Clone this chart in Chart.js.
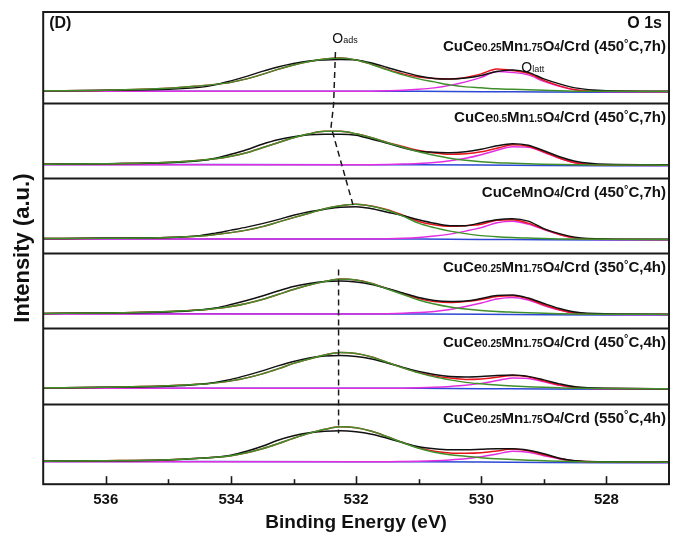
<!DOCTYPE html>
<html>
<head>
<meta charset="utf-8">
<script src="https://cdn.jsdelivr.net/npm/chart.js@4.4.1/dist/chart.umd.min.js"></script>
<style>
  html, body { margin: 0; padding: 0; background: #fff; }
</style>
</head>
<body>
<canvas id="myChart" width="676" height="540"></canvas>
<script>
// binding energy grid (eV) shared by all measured / fitted curves
const energy = [537, 536, 535, 534.5, 534.25, 534, 533.75, 533.5, 533.25, 533, 532.75, 532.5, 532.25, 532,
  531.75, 531.5, 531.25, 531, 530.75, 530.5, 530.25, 530, 529.75, 529.5, 529.25, 529, 528.75, 528.5, 528, 527];

// CuCe0.25Mn1.75O4/Crd (450C,7h)
const raw1 = [1.5, 2, 3, 5, 7.5, 11.5, 16, 21, 25.5, 29, 31.5, 32.5, 33, 32.5, 29.5, 25, 20.5, 16.5, 14, 13.5, 14.5, 17, 21, 22.5, 20, 13.5, 8.5, 4.5, 1.5, 1];
const fit1 = [1.5, 2, 4, 6.5, 8, 10, 13.5, 18, 23, 27.5, 31, 33.5, 34.5, 32.5, 28.2, 23, 18.5, 15.5, 14, 13.5, 15, 18.5, 23.5, 22, 19, 12, 6.5, 2.7, 1, 0.8];
const ads1 = [1.5, 2, 4, 6.5, 8, 10, 13.5, 18, 23, 27.5, 31, 33.5, 34.5, 32.5, 28, 22.5, 17.5, 13.5, 10.5, 7.5, 5.5, 4.5, 3.5, 3, 2.5, 2, 1.5, 1.2, 1, 0.8];
const latt1 = [1, 1, 1, 1, 1, 1, 1, 1, 1, 1, 1, 1, 1, 1, 1.2, 1.5, 2, 3, 4.5, 7, 10.5, 15, 21, 20, 17.5, 11, 6, 2.5, 0.5, 0.3];

// CuCe0.5Mn1.5O4/Crd (450C,7h)
const raw2 = [1.5, 2, 3, 5, 7.5, 11.5, 16, 21.5, 26, 29, 31, 31.5, 31.5, 30.5, 26.5, 22.5, 18, 14.5, 13.5, 13, 14, 16.5, 20, 22, 20.5, 15, 9, 4.5, 1.5, 1];
const fit2 = [1.5, 2, 3.5, 5.5, 7, 9.5, 13, 18, 23, 28, 32, 34.5, 34.5, 32, 28.1, 23.3, 19.2, 15.3, 12.8, 11.5, 12, 14, 17.5, 21, 19.5, 14, 7.7, 3, 0.8, 0.6];
const ads2 = [1.5, 2, 3.5, 5.5, 7, 9.5, 13, 18, 23, 28, 32, 34.5, 34.5, 32, 28, 23, 18.5, 14, 10.5, 7.5, 5.5, 4, 3, 2.5, 2, 1.5, 1.2, 1, 0.8, 0.6];
const latt2 = [1, 1, 1, 1, 1, 1, 1, 1, 1, 1, 1, 1, 1, 1, 1.1, 1.3, 1.7, 2.3, 3.3, 5, 7.5, 11, 15.5, 19, 18.5, 13.5, 7.5, 3, 0.6, 0.3];

// CuCeMnO4/Crd (450C,7h)
const raw3 = [1.5, 2, 2.5, 4.5, 7, 10, 13, 16.5, 20.5, 25, 28.5, 31, 33, 33.5, 31.5, 28, 24.5, 20.5, 17, 14.5, 14.5, 17.5, 20.5, 21.5, 19, 11.5, 6.5, 3, 1.2, 0.8];
const fit3 = [1.5, 1.8, 2.5, 4, 5.5, 7.5, 10, 13.5, 18, 22.5, 27, 31.5, 34.5, 36, 34.1, 30.4, 24.9, 18.7, 15.5, 14, 14.5, 16, 19.8, 20.5, 17, 11, 5.7, 2.2, 0.8, 0.6];
const ads3 = [1.5, 1.8, 2.5, 4, 5.5, 7.5, 10, 13.5, 18, 22.5, 27, 31.5, 34.5, 36, 34, 30, 24, 17, 12.5, 9, 6.5, 4.5, 3.3, 2.5, 2, 1.5, 1.2, 1, 0.8, 0.6];
const latt3 = [1, 1, 1, 1, 1, 1, 1, 1, 1, 1, 1, 1, 1, 1, 1.1, 1.4, 1.9, 2.7, 4, 6, 9, 12.5, 17.5, 19, 16, 10.5, 5.5, 2.2, 0.5, 0.3];

// CuCe0.25Mn1.75O4/Crd (350C,4h)
const raw4 = [1.5, 2, 3, 5, 7, 10.5, 14.5, 19, 24, 28.5, 31.5, 33.5, 34, 33, 30.5, 26.5, 22, 17.5, 14.5, 13.5, 14, 16.5, 19.5, 20, 17, 11.5, 6.5, 3, 1.2, 0.8];
const fit4 = [1.5, 2, 3.5, 5, 6.5, 8.5, 11.5, 15.5, 20.5, 25.5, 30, 33.5, 36, 35, 31.6, 26.3, 21.2, 16.4, 13.5, 12.5, 13.5, 15.5, 18.5, 19.3, 16.2, 10.2, 5.3, 2, 0.8, 0.6];
const ads4 = [1.5, 2, 3.5, 5, 6.5, 8.5, 11.5, 15.5, 20.5, 25.5, 30, 33.5, 36, 35, 31.5, 26, 20.5, 15, 11, 8, 6, 4.5, 3.5, 2.8, 2.2, 1.7, 1.3, 1, 0.8, 0.6];
const latt4 = [1, 1, 1, 1, 1, 1, 1, 1, 1, 1, 1, 1, 1, 1, 1.1, 1.3, 1.7, 2.4, 3.5, 5.5, 8.5, 12, 16, 17.5, 15, 9.5, 5, 2, 0.5, 0.3];

// CuCe0.25Mn1.75O4/Crd (450C,4h)
const raw5 = [1.5, 2, 3, 5, 7, 10, 14, 18.5, 23.5, 28, 31.5, 33.5, 34, 33, 30.5, 26.5, 22, 18, 15, 13, 12.5, 13, 14, 14.5, 13, 9.5, 5.5, 2.5, 1, 0.7];
const fit5 = [1.5, 2, 3.5, 5, 6.5, 8.5, 11.5, 15.5, 20.5, 26, 30.5, 34.5, 37, 36, 32.5, 27, 21.7, 17, 13.5, 11.3, 10, 10.5, 12.1, 13.9, 12.7, 8.5, 4.5, 1.8, 0.8, 0.6];
const ads5 = [1.5, 2, 3.5, 5, 6.5, 8.5, 11.5, 15.5, 20.5, 26, 30.5, 34.5, 37, 36, 32.5, 27, 21.5, 16.5, 12.5, 9.5, 7, 5.5, 4.3, 3.4, 2.7, 2, 1.5, 1.1, 0.8, 0.6];
const latt5 = [1, 1, 1, 1, 1, 1, 1, 1, 1, 1, 1, 1, 1, 1, 1, 1, 1.2, 1.5, 2, 2.8, 4, 6, 8.8, 11.5, 11, 7.5, 4, 1.7, 0.5, 0.3];

// CuCe0.25Mn1.75O4/Crd (550C,4h)
const raw6 = [1.5, 2, 2.7, 4.5, 5.5, 7.5, 11.5, 16.5, 22.5, 27, 30, 31.5, 32, 31, 28.5, 24.5, 20, 16, 14, 13, 13, 13.5, 14, 14, 12.5, 9, 4.5, 2, 1, 0.7];
const fit6 = [1.5, 2, 3, 4.5, 5.5, 7, 10, 14, 19, 24.5, 29.5, 33.5, 36, 35, 31.5, 26, 20.2, 15, 11.5, 9.8, 9.5, 10, 11.8, 13.7, 12, 8, 4.3, 1.7, 0.8, 0.6];
const ads6 = [1.5, 2, 3, 4.5, 5.5, 7, 10, 14, 19, 24.5, 29.5, 33.5, 36, 35, 31.5, 26, 20, 14.5, 10.5, 8, 6.5, 5, 4, 3.2, 2.5, 2, 1.5, 1.1, 0.8, 0.6];
const latt6 = [1, 1, 1, 1, 1, 1, 1, 1, 1, 1, 1, 1, 1, 1, 1, 1, 1.2, 1.5, 2, 2.8, 4, 6, 8.8, 11.5, 10.5, 7, 3.8, 1.6, 0.5, 0.3];

// Shirley-type background (same shape in each panel)
const bgEnergy = [537, 532, 531, 530, 529, 528, 527];
const bgLevel = [1.2, 1.1, 1.0, 0.7, 0.3, 0.1, 0];

// O_ads peak-position guide (energy, stacked intensity)
const guideTopE = [532.33, 532.36, 532.40, 532.05];
const guideTopI = [433, 380, 358, 280];
const guideLowE = [532.28, 532.28];
const guideLowI = [215, 51];

const panelLabels = [
  'CuCe_{0.25}Mn_{1.75}O_{4}/Crd (450^{°}C,7h)',
  'CuCe_{0.5}Mn_{1.5}O_{4}/Crd (450^{°}C,7h)',
  'CuCeMnO_{4}/Crd (450^{°}C,7h)',
  'CuCe_{0.25}Mn_{1.75}O_{4}/Crd (350^{°}C,4h)',
  'CuCe_{0.25}Mn_{1.75}O_{4}/Crd (450^{°}C,4h)',
  'CuCe_{0.25}Mn_{1.75}O_{4}/Crd (550^{°}C,4h)'
];
const panels = [
  [raw1, fit1, ads1, latt1], [raw2, fit2, ads2, latt2], [raw3, fit3, ads3, latt3],
  [raw4, fit4, ads4, latt4], [raw5, fit5, ads5, latt5], [raw6, fit6, ads6, latt6]
];

// vertical stacking (y units of the hidden axis)
const panelBase = [392.5, 319, 244.5, 169.5, 95, 21.5];
const dividers = [381.5, 306.5, 231.5, 156.5, 80.5];
const yTop = 473;

const colors = { raw: '#111111', fit: '#e8141c', ads: '#3f8f2a', latt: '#e22ee2', bg: '#2c48d4' };

function pts(xs, ys, off) {
  return xs.map((e, i) => ({ x: e, y: ys[i] + off }));
}
function line(data, color, order) {
  return { data: data, borderColor: color, borderWidth: 1.5, pointRadius: 0, cubicInterpolationMode: 'monotone', fill: false, order: order };
}

let datasets = [];
panels.forEach((p, k) => {
  const off = panelBase[k];
  datasets.push(line(pts(bgEnergy, bgLevel, off), colors.bg, 5));
  datasets.push(line(pts(energy, p[3], off), colors.latt, 4));
  datasets.push(line(pts(energy, p[1], off), colors.fit, 3));
  datasets.push(line(pts(energy, p[0], off), colors.raw, 2));
  datasets.push(line(pts(energy, p[2], off), colors.ads, 1));
});
[[guideTopE, guideTopI], [guideLowE, guideLowI]].forEach(g => {
  datasets.push({ data: pts(g[0], g[1], 0), borderColor: '#1a1a1a', borderWidth: 1.5, borderDash: [6, 4], pointRadius: 0, tension: 0, order: 0 });
});

function drawRich(ctx, str, xRight, yBase, size) {
  const parts = str.split(/(_\{[^}]*\}|\^\{[^}]*\})/).filter(s => s.length);
  const segs = parts.map(s => {
    if (s.startsWith('_{')) return { t: s.slice(2, -1), f: 'bold ' + Math.round(size * 0.68) + 'px "Liberation Sans", Arial', dy: 0 };
    if (s.startsWith('^{')) return { t: s.slice(2, -1), f: 'bold ' + Math.round(size * 0.75) + 'px "Liberation Sans", Arial', dy: -size * 0.3 };
    return { t: s, f: 'bold ' + size + 'px "Liberation Sans", Arial', dy: 0 };
  });
  let w = 0;
  segs.forEach(s => { ctx.font = s.f; s.w = ctx.measureText(s.t).width; w += s.w; });
  let x = xRight - w;
  segs.forEach(s => { ctx.font = s.f; ctx.fillText(s.t, x, yBase + s.dy); x += s.w; });
}

const decor = {
  id: 'decor',
  afterDatasetsDraw(chart) {
    const { ctx, chartArea: a, scales: { x, y } } = chart;
    ctx.save();
    ctx.strokeStyle = '#1a1a1a';
    ctx.lineWidth = 1.8;
    dividers.forEach(v => {
      const py = Math.round(y.getPixelForValue(v)) + 0.5;
      ctx.beginPath(); ctx.moveTo(a.left, py); ctx.lineTo(a.right, py); ctx.stroke();
    });
    ctx.lineWidth = 2;
    ctx.strokeRect(a.left, a.top, a.right - a.left, a.bottom - a.top);
    ctx.lineWidth = 1.6;
    x.ticks.forEach(t => {
      const v = Math.round(t.value);
      if (v <= 527 || v >= 537) return;
      const px = Math.round(x.getPixelForValue(v)) + 0.5;
      const len = v % 2 === 0 ? 8 : 5;
      ctx.beginPath(); ctx.moveTo(px, a.bottom); ctx.lineTo(px, a.bottom - len); ctx.stroke();
    });

    ctx.fillStyle = '#111';
    ctx.textBaseline = 'alphabetic';
    ctx.textAlign = 'left';
    ctx.font = 'bold 16px "Liberation Sans", Arial';
    ctx.fillText('(D)', a.left + 6, a.top + 16);
    ctx.textAlign = 'right';
    ctx.fillText('O 1s', a.right - 7, a.top + 16);
    ctx.textAlign = 'left';

    panelLabels.forEach((lab, k) => {
      const topPx = k === 0 ? a.top + 20 : y.getPixelForValue(dividers[k - 1]);
      drawRich(ctx, lab, a.right - 3, topPx + 19, 15);
    });

    // peak labels
    ctx.font = '14px "Liberation Sans", Arial';
    const ox = x.getPixelForValue(532.38);
    ctx.fillText('O', ox, a.top + 31);
    let w = ctx.measureText('O').width;
    ctx.font = '9px "Liberation Sans", Arial';
    ctx.fillText('ads', ox + w, a.top + 31);
    ctx.font = '14px "Liberation Sans", Arial';
    const lx = x.getPixelForValue(529.36);
    ctx.fillText('O', lx, a.top + 60);
    ctx.font = '9px "Liberation Sans", Arial';
    ctx.fillText('latt', lx + w, a.top + 60);
    ctx.restore();
  }
};

let ctx = document.getElementById('myChart').getContext('2d');
let chart = new Chart(ctx, {
  type: 'line',
  data: { datasets: datasets },
  options: {
    responsive: false,
    animation: false,
    devicePixelRatio: 1,
    layout: { padding: { left: 10, right: 4, top: 12, bottom: 6 } },
    plugins: { legend: { display: false }, tooltip: { enabled: false } },
    scales: {
      x: {
        type: 'linear', min: 527, max: 537, reverse: true,
        grid: { display: false, drawTicks: false },
        border: { display: false },
        ticks: {
          stepSize: 1, autoSkip: false, maxRotation: 0, padding: 7, color: '#111',
          font: { family: '"Liberation Sans", Arial', size: 15, weight: 'bold' },
          callback: v => (Math.round(v) % 2 === 0 && v > 527 && v < 537) ? String(Math.round(v)) : ''
        },
        title: {
          display: true, text: 'Binding Energy (eV)', color: '#111',
          font: { family: '"Liberation Sans", Arial', size: 19, weight: 'bold' },
          padding: { top: -5, bottom: 0 }
        }
      },
      y: {
        min: 0, max: yTop,
        grid: { display: false, drawTicks: false },
        border: { display: false },
        ticks: { display: false },
        title: {
          display: true, text: 'Intensity (a.u.)', color: '#111',
          font: { family: '"Liberation Sans", Arial', size: 22, weight: 'bold' },
          padding: { top: 0, bottom: 6.8 }
        }
      }
    }
  },
  plugins: [decor]
});
</script>
</body>
</html>
